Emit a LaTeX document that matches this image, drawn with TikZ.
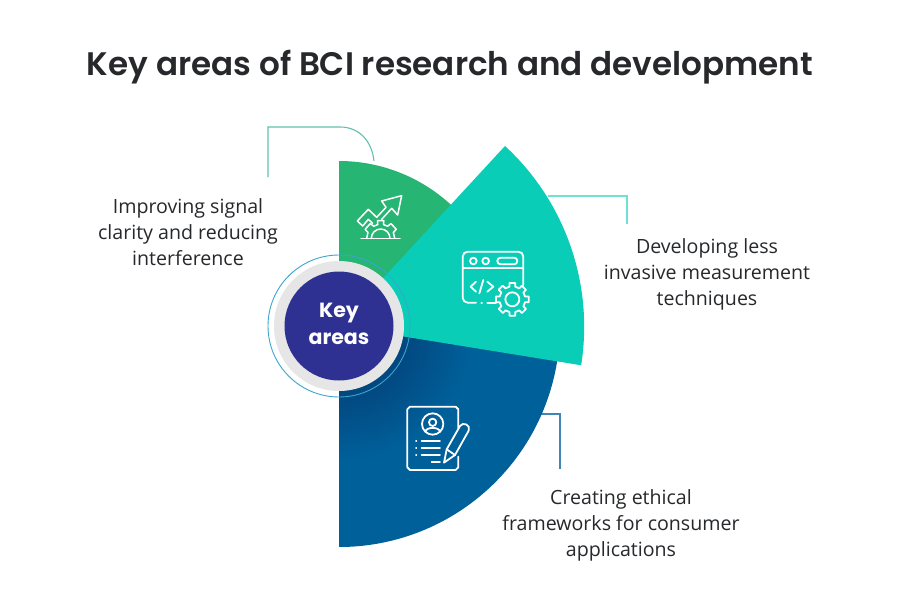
\documentclass[tikz,border=0pt]{standalone}
\usepackage{fontspec}
\setmainfont{Open Sans}
\newfontfamily\titlefont{Poppins}[UprightFont=* SemiBold,BoldFont=* SemiBold]
\newfontfamily\keyfont{Poppins}[UprightFont=* Bold,BoldFont=* Bold]
\definecolor{greenS}{HTML}{26B573}
\definecolor{tealS}{HTML}{0ACDB8}
\definecolor{navyOut}{HTML}{00609A}
\definecolor{navyIn}{HTML}{062F66}
\definecolor{indigoC}{HTML}{2E3192}
\definecolor{greyC}{HTML}{E6E6E6}
\definecolor{ringC}{HTML}{3AA5CF}
\definecolor{inkT}{HTML}{26282B}
\definecolor{lineG}{HTML}{62BFB2}
\tikzset{
  conn/.style={line width=1.1pt,line join=miter},
  icon/.style={draw=white,line width=1.8pt,line cap=round,line join=round},
  lab/.style={text=inkT,align=center,font=\fontsize{19.6}{26}\selectfont},
}
\begin{document}
\begin{tikzpicture}[x=1pt,y=-1pt,every node/.style={inner sep=0pt,outer sep=0pt}]
\useasboundingbox[fill=white] (0,0) rectangle (900,600);
\coordinate (c) at (339,326);
% connectors, behind the sectors
\coordinate (g1) at (268,177);
\coordinate (g2) at (268,127);
\coordinate (g3) at (340,127);
\coordinate (g4) at (374,161);
\draw[conn,draw=lineG] (g1) -- (g2) -- (g3) .. controls (360,127) and (372,142) .. (g4);
\coordinate (t1) at (548,196);
\coordinate (t2) at (627,196);
\coordinate (t3) at (627,224);
\draw[conn,draw=tealS!60!white] (t1) -- (t2) -- (t3);
\coordinate (n1) at (530,414);
\coordinate (n2) at (560,414);
\coordinate (n3) at (560,469);
\draw[conn,draw=navyOut!75!white] (n1) -- (n2) -- (n3);
% sectors
\fill[greenS] (339,326) -- (339,161) arc[start angle=270,end angle=318,radius=165] -- cycle;
\begin{scope}
\clip (339,326) -- (339,547) arc[start angle=90,end angle=9,radius=221] -- cycle;
\fill[navyOut] (118,105) rectangle (560,547);
\shade[inner color=navyIn,outer color=navyOut] (339,326) circle[radius=135];
\end{scope}
\fill[tealS] (339,326) -- (505,146) arc[start angle=-47.3,end angle=9,radius=246] -- cycle;
% centre
\draw[ringC,line width=0.9pt] (c) circle[radius=71];
\fill[greyC] (c) circle[radius=65];
\fill[indigoC] (c) circle[radius=54.5];
\node[text=white,align=center,font=\keyfont\fontsize{20.5}{26.5}\selectfont] (key) at (339,324) {Key\\areas};
% icon 1
\begin{scope}[shift={(350,190)},scale=1/3]
\draw[icon,line width=1.5pt] (22,93) -- (55,58) -- (80,82) -- (108,52) -- (95,33) -- (155,17) -- (143,75) -- (125,55) -- (95,88);
\draw[icon,line width=1.5pt] (22,93) -- (38,108) -- (55,88) -- (68,100);
\draw[icon,line width=1.5pt] (33,145) -- (150,145);
\begin{scope}[shift={(92,145)}]
\draw[icon,line width=1.5pt] (180:42) -- (205:42) -- (210:54) -- (235:54) -- (240:42) -- (258:42) -- (260:54) -- (280:54) -- (282:42) -- (300:42) -- (305:54) -- (330:54) -- (335:42) -- (360:42);
\draw[icon,line width=1.5pt] (-28,0) arc[start angle=180,end angle=360,radius=28];
\end{scope}
\end{scope}
% icon 2
\begin{scope}[shift={(440,230)},scale=1/3]
\draw[icon] (250,165) -- (250,80) arc[start angle=0,end angle=-90,radius=15] -- (83,65) arc[start angle=270,end angle=180,radius=15] -- (68,203) arc[start angle=180,end angle=90,radius=15] -- (108,218);
\draw[icon] (124,218) -- (126,218);
\draw[icon] (142,218) -- (168,218);
\draw[icon] (68,115) -- (250,115);
\draw[icon] (100,93) circle[radius=10];
\draw[icon] (137,93) circle[radius=10];
\draw[icon,rounded corners=3.2pt] (172,83) rectangle (232,103);
\draw[icon] (108,155) -- (92,170) -- (108,185);
\draw[icon] (130,150) -- (118,190);
\draw[icon] (142,155) -- (160,170) -- (142,185);
\begin{scope}[shift={(217,208)}]
\draw[icon] (-13:39) \foreach \a in {0,45,...,315} { -- (\a-13:39) -- (\a-10:50) -- (\a+10:50) -- (\a+13:39) } -- cycle;
\draw[icon] (0,0) circle[radius=21];
\end{scope}
\end{scope}
% icon 3
\begin{scope}[shift={(390,390)},scale=1/3]
\draw[icon] (205,115) -- (205,58) -- (197,50) -- (60,50) -- (52,58) -- (52,232) -- (60,240) -- (197,240) -- (205,232) -- (205,200);
\draw[icon] (128,102) circle[radius=32];
\draw[icon] (128,97) circle[radius=11];
\draw[icon] (106,125) .. controls (108,110) and (148,110) .. (150,125);
\foreach \y in {152,173,195} {
  \draw[icon] (78,\y) -- (79,\y);
  \draw[icon] (95,\y) -- (150,\y);
}
\draw[icon] (125,215) -- (150,215);
\draw[icon] (162,218) -- (170,178) -- (210,108) .. controls (218,94) and (244,105) .. (236,122) -- (195,195) -- cycle;
\draw[icon] (170,178) -- (195,195);
\end{scope}
% texts
\node[font=\titlefont\fontsize{32.6}{38}\selectfont,text=inkT] (title) at (450,67) {Key areas of BCI research and development};
\node[lab] (l1) at (188,232) {Improving signal\\clarity and reducing\\interference};
\node[lab] (l2) at (707,274) {Developing less\\invasive measurement\\techniques};
\node[lab] (l3) at (621,525) {Creating ethical\\frameworks for consumer\\applications};
\end{tikzpicture}
\end{document}
